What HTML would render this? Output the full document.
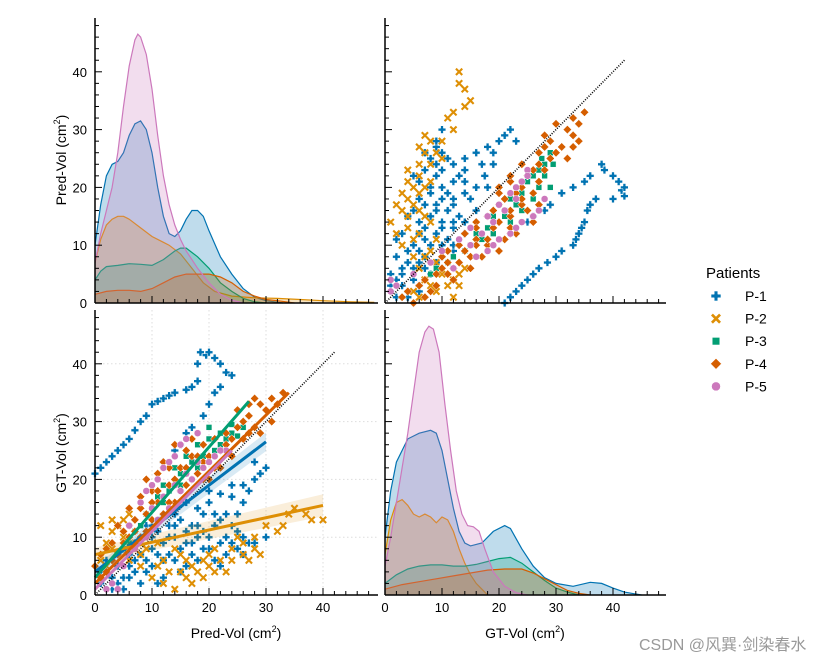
<!DOCTYPE html>
<html><head><meta charset="utf-8">
<style>
body{margin:0;background:#fff;width:820px;height:660px;overflow:hidden;font-family:"Liberation Sans","Noto Sans CJK SC",sans-serif;}
svg text{font-family:"Liberation Sans","Noto Sans CJK SC",sans-serif;}
</style></head>
<body>
<svg id="chart" width="820" height="660" xmlns="http://www.w3.org/2000/svg">
</svg>
<script>
// ---- data ----
const patients = ["P-1","P-2","P-3","P-4","P-5"];
const colors = ["#0173b2","#de8f05","#029e73","#d55e00","#cc78bc"];
// [pred, gt] pairs
const p1Points = [[0,21],[1,22],[2,23],[3,24],[4,25],[5,26],[6,27],[7,28.5],[8,30],[9,31],[10,33],[11,33.5],[12,34],[13,34.5],[14,35],[16,35.5],[17,36],[18,37],[18,40],[18.5,42],[19.5,41.5],[20,42],[21,41],[22,40],[23,38.5],[24,38],[22,36],[21,35],[20,33],[19,31],[17,29],[16,28],[15,26],[14,25],[12,23],
[20,18],[22,17.5],[24,17],[26,16],[28,20],[29,21],[30,22],[27,18],[20,10],[22,9],[25,8],[27,9],[28,9],[30,10],[15,8],[17,7],[18,6],[10,5],[5,3],[3,1],[4,2],[8,2],[12,3],[14,10],[22,5],[17,12],[12,14],[8,10],[6,7],[2,4],[19,11],[24,12],[26,7],[16,5],[10,8],[13,12],[21,14],[9,6],[11,11],[7,4],[6,5],[15,13],[18,15],[23,14],[25,11],[1,2],[2,6],[4,5],[5,8],[9,12],[14,6],[20,8],[23,10],[16,16],[13,7],
[3,3],[5,1],[7,6],[8,7],[10,10],[11,7],[12,9],[13,10],[14,14],[16,11],[17,9],[18,10],[19,14],[20,16],[21,12],[22,13],[24,9],[25,14],[26,10],[15,4],[11,2],[6,3],[9,4],[12,6],[18,12],[19,8],[21,6],[23,7],[16,9],[14,12],[24,19],[26,19],[28,23],[2,1],[1,4],[3,6],[7,9],[10,12]];
const p2Points = [[1,12],[2,9],[3,11],[4,12],[5,13],[6,14],[4,7],[6,6],[8,5],[10,3],[12,2],[14,1],[16,3],[18,4],[20,5],[22,6],[24,8],[26,9],[28,8],[30,12],[32,11],[34,14],[35,15],[37,14],[40,13],[38,13],[15,7],[20,7],[25,10],[28,10],[7,9],[11,5],[17,2],[13,4],[3,8],[2,5],[9,8],[19,3],[23,4],[27,6],[29,7],[33,12],[21,8],[1,6],[15,4],[17,5],[19,6],[21,4],[24,6],[26,7],[5,10],[8,7],[3,13],[12,6],[14,8],[11,9],[16,6]];
const p3Points = [[5,8],[8,12],[10,15],[12,19],[14,22],[16,24],[18,26],[20,27],[22,28],[24,28],[26,29],[17,23],[13,18],[21,25],[9,14],[15,21],[23,27],[25,27.5],[19,24],[11,17],[7,11],[20,29],[24,29.5],[15,19],[18,22],[22,26],[16,21],[12,16],[6,9]];
const p4Points = [[1,3],[3,6],[5,9],[7,11],[9,14],[11,16],[13,19],[15,22],[17,24],[19,26],[21,27],[23,28],[25,29],[27,31],[29,33],[31,34],[33,35],[30,32],[28,29],[26,27],[2,8],[4,12],[6,15],[10,18],[12,22],[16,25],[8,10],[14,16],[20,20],[24,24],[29,28],[18,21],[22,25],[28,34],[32,33],[31,30],[14,26],[12,23],[6,12],[3,9],[10,13],[16,19],[19,23],[25,32],[27,33],[0,5],[1,7],[9,20],[17,27],[11,21],
[2,4],[4,7],[5,11],[7,13],[8,15],[9,11],[11,18],[12,14],[13,22],[14,20],[15,18],[16,22],[17,20],[18,24],[19,20],[20,24],[21,22],[22,22],[23,26],[24,27],[26,30],[27,28],[13,16],[10,16],[6,10],[8,17]];
const p5Points = [[3,2],[5,5],[7,8],[9,10],[11,13],[13,15],[15,18],[17,20],[19,22],[21,24],[23,25],[10,19],[12,22],[14,24],[16,27],[18,28],[8,16],[6,12],[4,1],[11,20],[13,23],[15,26],[20,23],[22,25],[9,18],[2,1],[12,17],[14,19],[16,21],[18,23],[10,15]];
const allPoints = [p1Points,p2Points,p3Points,p4Points,p5Points];
// regression lines [x0,y0,x1,y1]
const fitLines = [[0,4,30,26.5],[0,7,40,15.5],[0,3,27,33.5],[0,2,34,35],[0,1,24,25]];
// KDE of Pred-Vol
const kdePred = [
 [[0,10],[1,17],[2,22],[3,24],[4,24.5],[5,26],[6,29],[7,31],[8,31.5],[9,30],[10,26],[11,20],[12,15],[13,12],[14,11.5],[15,12.5],[16,14.5],[17,16],[18,16],[19,15],[20,12.5],[22,8],[24,5],[26,2.5],[28,1],[30,0.4],[33,0]],
 [[0,7],[1,11],[2,13.5],[3,14.5],[4,15],[5,15],[6,14.5],[8,13],[10,11.5],[12,10.5],[13,10],[15,8.5],[17,6],[19,3.5],[21,2],[24,1.2],[28,0.9],[32,0.8],[36,0.6],[40,0.4],[45,0.2],[49,0.1]],
 [[0,4],[1,5.5],[2,6.3],[4,6.5],[6,6.8],[8,6.7],[10,6.5],[12,7.5],[14,9],[15,9.5],[16,9.5],[18,8],[20,6],[22,3.5],[24,2],[26,0.8],[28,0.2],[30,0]],
 [[0,1.5],[2,2],[4,2.2],[6,2.2],[8,2],[10,2.5],[12,3.5],[14,4.5],[16,5],[18,5],[20,5],[22,4.5],[24,3.5],[26,2],[28,1.2],[30,0.6],[32,0.4],[35,0]],
 [[0,7],[1,12],[2,16],[3,20],[4,26],[5,34],[6,41],[7,45.5],[7.5,46.5],[8,46],[9,43],[10,37],[11,29],[12,22],[13,17],[14,13.5],[15,11],[16,9],[17,7.5],[18,6],[20,3.5],[22,1.5],[24,0.5],[26,0]]
];
// KDE of GT-Vol
const kdeGT = [
 [[0,10],[1,18],[2,23],[3,25],[4,27],[6,28],[8,28.5],[9,28],[10,25],[11,20],[12,15],[13,11],[14,9],[15,8.5],[17,9],[19,11],[21,12],[22,11.5],[24,8],[26,5],[28,3],[30,2],[33,1.5],[36,2.2],[38,2],[40,1.2],[42,0.5],[45,0]],
 [[0,7],[1,13],[2,16],[3,16.5],[4,15.5],[5,14],[6,13.5],[7,14],[8,13.5],[9,12.5],[10,13.5],[11,13],[12,11],[13,8],[14,5.5],[15,3.5],[16,2],[17,1],[18,0]],
 [[0,2],[2,3.5],[4,4.5],[6,5],[8,5.2],[10,5.2],[12,5],[14,5],[16,5.3],[18,5.8],[20,6.3],[22,6.5],[24,5.5],[26,4],[28,2.5],[30,1.2],[32,0.5],[34,0]],
 [[0,1],[3,1.8],[6,2.3],[9,2.8],[12,3.3],[15,3.8],[18,4.3],[21,4.5],[24,4.5],[26,3.8],[28,2.8],[30,1.8],[32,0.8],[34,0.3],[36,0]],
 [[0,5],[1,10],[2,16],[3,22],[4,28],[5,35],[6,42],[7,45.5],[7.7,46.5],[8.5,46],[9.5,42],[10.5,33],[11.5,25],[12.5,18],[13.5,14],[14.5,12],[15.5,11.8],[16.5,11],[17.5,8],[19,4],[21,1.5],[23,0.4],[25,0]]
];
const tickVals = [0,10,20,30,40];

// ---- layout ----
const svg = document.getElementById('chart');
const NS = "http://www.w3.org/2000/svg";
const panels = {
  tl:{x0:95,x1:378,y0:303,y1:18},
  tr:{x0:385,x1:666,y0:303,y1:18},
  bl:{x0:95,x1:378,y0:595,y1:310},
  br:{x0:385,x1:666,y0:595,y1:310}
};
const XS = 5.7, YS = 5.78;
function sx(p,v){return p.x0 + v*XS;}
function sy(p,v){return p.y0 - v*YS;}
function el(tag, attrs, parent){const e=document.createElementNS(NS,tag);for(const k in attrs)e.setAttribute(k,attrs[k]);(parent||svg).appendChild(e);return e;}

const grid = el('g',{});


tickVals.forEach(v=>{
  if(v===0) return;
  el('line',{x1:sx(panels.bl,v),x2:sx(panels.bl,v),y1:310,y2:595,stroke:'#ddd','stroke-dasharray':'1.5,2.5','stroke-width':1},grid);
  el('line',{x1:95,x2:378,y1:sy(panels.bl,v),y2:sy(panels.bl,v),stroke:'#ddd','stroke-dasharray':'1.5,2.5','stroke-width':1},grid);
});

function drawKde(p, kdes, name){
  const g = el('g',{});
  
  
  kdes.forEach((pts,i)=>{
    let d = 'M'+sx(p,pts[0][0])+','+p.y0;
    pts.forEach(q=>{d+=' L'+sx(p,q[0]).toFixed(1)+','+sy(p,q[1]).toFixed(1);});
    d += ' L'+sx(p,pts[pts.length-1][0])+','+p.y0+' Z';
    const a = el('path',{d:d,fill:colors[i],'fill-opacity':0.25,stroke:'none'},g);
    
    
    let l = 'M'+pts.map(q=>sx(p,q[0]).toFixed(1)+','+sy(p,q[1]).toFixed(1)).join(' L');
    const ln = el('path',{d:l,fill:'none',stroke:colors[i],'stroke-width':1.2},g);
    
    
  });
}
drawKde(panels.tl, kdePred, 'pred-vol-kde');
drawKde(panels.br, kdeGT, 'gt-vol-kde');

function marker(g, i, x, y, s){
  const c = colors[i];
  if(i===0){
    const w=s*0.4, h=s*1.1;
    el('path',{d:`M${x-w/2},${y-h/2}h${w}v${(h-w)/2}h${(h-w)/2}v${w}h${-(h-w)/2}v${(h-w)/2}h${-w}v${-(h-w)/2}h${-(h-w)/2}v${-w}h${(h-w)/2}z`,fill:c,stroke:'#fff','stroke-width':0.5},g);
  } else if(i===1){
    const r=s*0.45;
    el('path',{d:`M${x-r},${y-r}L${x+r},${y+r}M${x+r},${y-r}L${x-r},${y+r}`,stroke:c,'stroke-width':s*0.3,fill:'none'},g);
  } else if(i===2){
    el('rect',{x:x-s*0.42,y:y-s*0.42,width:s*0.84,height:s*0.84,fill:c,stroke:'#fff','stroke-width':0.5},g);
  } else if(i===3){
    const r=s*0.6;
    el('path',{d:`M${x},${y-r}L${x+r},${y}L${x},${y+r}L${x-r},${y}Z`,fill:c,stroke:'#fff','stroke-width':0.5},g);
  } else {
    el('circle',{cx:x,cy:y,r:s*0.5,fill:c,stroke:'#fff','stroke-width':0.5},g);
  }
}
function drawScatter(p, swap, name){
  const g = el('g',{});
  
  
  allPoints.forEach((pts,i)=>{
    const sg = el('g',{},g);
    
    
    pts.forEach(q=>{
      const xv = swap?q[1]:q[0], yv = swap?q[0]:q[1];
      marker(sg,i,sx(p,xv),sy(p,yv),7);
    });
  });
  const id = el('line',{x1:sx(p,0),y1:sy(p,0),x2:sx(p,42),y2:sy(p,42),stroke:'#000','stroke-width':1.6,'stroke-dasharray':'1,1.5'},g);
  
  
}
drawScatter(panels.tr, true, 'gt-vs-pred-scatter');
drawScatter(panels.bl, false, 'pred-vs-gt-scatter');

const rg = el('g',{});


[0,1].forEach(i=>{
  const f=fitLines[i], p=panels.bl;
  const w = i===1?1.2:1.0;
  el('path',{d:`M${sx(p,f[0])},${sy(p,f[1]-w)}L${sx(p,f[2])},${sy(p,f[3]-w*1.6)}L${sx(p,f[2])},${sy(p,f[3]+w*1.6)}L${sx(p,f[0])},${sy(p,f[1]+w)}Z`,fill:colors[i],'fill-opacity':0.15},rg);
});
fitLines.forEach((f,i)=>{
  const p=panels.bl;
  const l = el('line',{x1:sx(p,f[0]),y1:sy(p,f[1]),x2:sx(p,f[2]),y2:sy(p,f[3]),stroke:colors[i],'stroke-width':3},rg);
  
  
});

function axes(p, name, xlabels, ylabels){
  const g = el('g',{});
  
  
  el('line',{x1:p.x0,x2:p.x0,y1:p.y1,y2:p.y0,stroke:'#000','stroke-width':1.5},g);
  el('line',{x1:p.x0,x2:p.x1,y1:p.y0,y2:p.y0,stroke:'#000','stroke-width':1.5},g);
  for(let v=0; v<=49; v+=2){
    const maj = v%10===0, L = maj?7:4;
    const x = sx(p,v);
    if(x<=p.x1) el('line',{x1:x,x2:x,y1:p.y0,y2:p.y0-L,stroke:'#000','stroke-width':1},g);
    const y = sy(p,v);
    if(y>=p.y1) el('line',{x1:p.x0,x2:p.x0+L,y1:y,y2:y,stroke:'#000','stroke-width':1},g);
  }
  if(xlabels) tickVals.forEach(v=>{const t=el('text',{x:sx(p,v),y:p.y0+17,'text-anchor':'middle','font-size':13,fill:'#000'},g);t.textContent=v;});
  if(ylabels) tickVals.forEach(v=>{const t=el('text',{x:p.x0-8,y:sy(p,v)+5,'text-anchor':'end','font-size':13,fill:'#000'},g);t.textContent=v;});
}
axes(panels.tl,'axes-top-left',false,true);
axes(panels.tr,'axes-top-right',false,false);
axes(panels.bl,'axes-bottom-left',true,true);
axes(panels.br,'axes-bottom-right',true,false);

function label(txt,x,y,rot,name){
  const t = el('text',{x:x,y:y,'text-anchor':'middle','font-size':14,fill:'#000',transform:rot?`rotate(-90 ${x} ${y})`:''});
  
  
  t.innerHTML = txt+' (cm<tspan dy="-6" font-size="9">2</tspan><tspan dy="6">)</tspan>';
}
label('Pred-Vol',236,638,false,'x-axis-title-pred');
label('GT-Vol',525,638,false,'x-axis-title-gt');
label('Pred-Vol',66,160,true,'y-axis-title-pred');
label('GT-Vol',66,453,true,'y-axis-title-gt');

const lg = el('g',{});


const lt = el('text',{x:706,y:278,'font-size':15,fill:'#000'},lg); lt.textContent='Patients';
patients.forEach((n,i)=>{
  const eg = el('g',{},lg);
  
  
  const y = 296 + i*22.6;
  marker(eg,i,716,y,9);
  const t = el('text',{x:745,y:y+5,'font-size':14,fill:'#000'},eg); t.textContent=n;
});

const wm = el('text',{x:639,y:650,'font-size':16,fill:'#999'});


wm.textContent='CSDN @风巽·剑染春水';
</script>
</body></html>
